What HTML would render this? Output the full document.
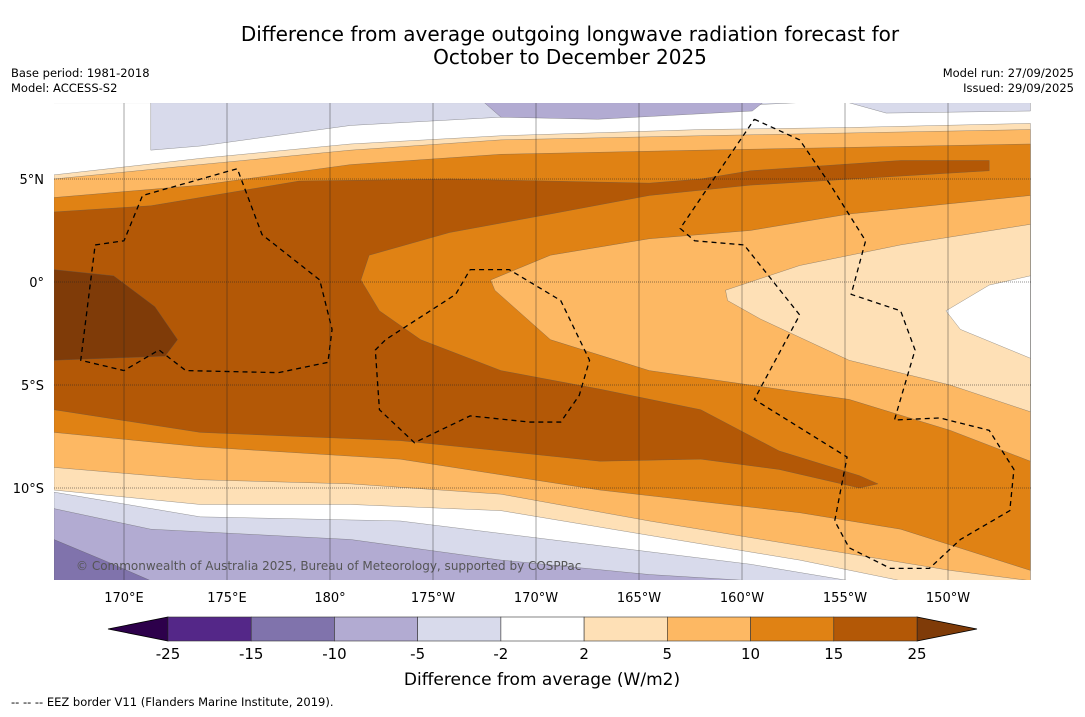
<!DOCTYPE html>
<html><head><meta charset="utf-8">
<style>
body{margin:0;background:#fff;width:1085px;height:713px;overflow:hidden;font-family:"DejaVu Sans","Liberation Sans",sans-serif;}
</style></head>
<body>
<svg id="chart" width="1085" height="713" xmlns="http://www.w3.org/2000/svg">
<rect width="1085" height="713" fill="#fff"/>
<text x="570" y="41" text-anchor="middle" font-size="20" fill="#000">Difference from average outgoing longwave radiation forecast for</text>
<text x="570" y="64" text-anchor="middle" font-size="20" fill="#000">October to December 2025</text>
<text x="11" y="77" font-size="11.5">Base period: 1981-2018</text>
<text x="11" y="92" font-size="11.5">Model: ACCESS-S2</text>
<text x="1074" y="77" font-size="11.5" text-anchor="end">Model run: 27/09/2025</text>
<text x="1074" y="92" font-size="11.5" text-anchor="end">Issued: 29/09/2025</text>
<defs><clipPath id="plotclip"><rect x="54" y="103" width="977" height="477"/></clipPath></defs>
<g id="map" clip-path="url(#plotclip)"></g>
<g id="axes"></g>
<g id="cbar"></g>
<text x="542" y="685" text-anchor="middle" font-size="17">Difference from average (W/m2)</text>
<text x="11" y="706" font-size="11.5">--  --  -- EEZ border V11 (Flanders Marine Institute, 2019).</text>
</svg>
<script>
const levelLabels=["-25","-15","-10","-5","-2","2","5","10","15","25"];
const levelColors=["#542788","#8073ac","#b2abd2","#d8daeb","#ffffff","#fee0b6","#fdb863","#e08214","#b35806"];
const lowColor="#2d004b", highColor="#7f3b08";
const lonTicks=[170,175,180,185,190,195,200,205,210];
const lonLabels=["170°E","175°E","180°","175°W","170°W","165°W","160°W","155°W","150°W"];
const latTicks=[5,0,-5,-10];
const latLabels=["5°N","0°","5°S","10°S"];
// contour regions [colour index (9 = above 25), polygon lon/lat]
const regions=[
[3,[[166.6,8.7],[171.3,8.7],[171.3,6.4],[173.7,6.6],[181,7.6],[188.3,8.0],[202.6,8.7]]],
[3,[[205.2,8.7],[214,8.7],[214,8.3],[207,8.2]]],
[2,[[187.5,8.7],[188.3,8.0],[193,7.9],[200.5,8.3],[201,8.7]]],
[5,[[166.6,5.2],[173.7,6.0],[181,6.7],[188.3,7.1],[198,7.4],[205.2,7.5],[214,7.7],[214,-14.5],[207.7,-14.5],[202.8,-13.5],[195.5,-12.3],[188.3,-11.1],[181,-10.8],[173.7,-10.8],[166.6,-10.1]]],
[6,[[166.6,5.0],[173.7,5.7],[181,6.4],[188.3,6.9],[198,7.1],[214,7.4],[214,-14.5],[210.1,-14],[202.8,-12.8],[195.5,-11.6],[188.3,-10.3],[181,-9.8],[173.7,-9.6],[166.6,-9.0]]],
[7,[[166.6,4.1],[173.7,4.7],[181,5.7],[188.3,6.2],[198,6.4],[214,6.7],[214,-14.0],[207.7,-12],[202.8,-11.2],[193.1,-10.1],[183.4,-8.6],[173.7,-8.0],[166.6,-7.3]]],
[8,[[166.6,3.4],[171.3,3.7],[178.5,4.9],[185.8,5.0],[195.5,4.8],[198,5.0],[200.4,5.4],[207.7,5.9],[212,5.9],[212,5.4],[207,5.1],[200.4,4.7],[195.5,4.2],[190.7,3.3],[185.8,2.4],[181.9,1.3],[181.5,0.1],[182.4,-1.4],[184.4,-2.8],[188.3,-4.3],[193.1,-5.2],[198,-6.2],[201.8,-8.2],[205.7,-9.4],[206.6,-9.8],[205.7,-10],[201.8,-9.1],[198,-8.6],[193.1,-8.7],[188.3,-8.2],[183.4,-7.7],[178.5,-7.5],[173.7,-7.3],[166.6,-6.2]]],
[9,[[166.6,0.6],[169.5,0.3],[171.5,-1.2],[172.6,-2.8],[172,-3.6],[166.6,-3.8]]],
[6,[[187.8,0.1],[190.7,1.3],[195.5,2.1],[200.4,2.5],[205.2,3.3],[214,4.2],[214,-8.7],[210.1,-7.2],[205.2,-5.7],[200.4,-5],[195.5,-4.3],[190.7,-2.8],[188,-0.4]]],
[5,[[199.2,-0.4],[202.8,0.8],[207.7,1.8],[214,2.8],[214,-6.3],[210.1,-5],[205.2,-3.8],[200.9,-1.8],[199.3,-0.9]]],
[4,[[214,0.3],[212,-0.15],[209.9,-1.4],[210.6,-2.3],[214,-3.7]]],
[3,[[166.6,-10.2],[173.7,-11.4],[183.4,-11.6],[193.1,-12.8],[200.4,-13.7],[205.2,-14.5],[166.6,-14.5]]],
[2,[[166.6,-11],[171.3,-12],[181,-12.5],[188.3,-13.5],[195.5,-14.2],[200.4,-14.5],[166.6,-14.5]]],
[1,[[166.6,-12.5],[169,-13.5],[171.3,-14.5],[166.6,-14.5]]]
];
const eez=[
[[168.6,1.8],[170,2.0],[170.9,4.2],[175.5,5.5],[176.7,2.3],[179.5,0.1],[180.1,-2.3],[179.9,-3.9],[177.5,-4.4],[173,-4.3],[171.7,-3.3],[170,-4.3],[167.9,-3.8],[168.6,1.8]],
[[186.8,0.6],[188.7,0.6],[191.2,-0.9],[192.6,-3.8],[192.1,-5.5],[191.2,-6.8],[189.7,-6.8],[186.8,-6.5],[184.1,-7.8],[182.4,-6.2],[182.2,-3.3],[182.7,-2.8],[186.1,-0.6],[186.8,0.6]],
[[200.6,7.9],[202.8,6.9],[204.3,4.7],[206,2.0],[205.3,-0.6],[207.7,-1.4],[208.4,-3.3],[207.4,-6.7],[209.6,-6.6],[212,-7.2],[213.2,-9.1],[213,-11.1],[210.6,-12.5],[209.1,-13.9],[207.2,-13.9],[205.2,-12.9],[204.5,-11.6],[205.1,-8.5],[200.6,-5.7],[202.8,-1.6],[200.1,1.8],[197.7,2.0],[197,2.6],[200.6,7.9]]
];
const NS="http://www.w3.org/2000/svg";
const X=lon=>124+(lon-170)*20.6;
const Y=lat=>282-lat*20.6;
const colorOf=i=>i>=levelColors.length?highColor:(i<0?lowColor:levelColors[i]);
function mk(tag,attrs,parent){const e=document.createElementNS(NS,tag);for(const k in attrs)e.setAttribute(k,attrs[k]);parent.appendChild(e);return e;}
const map=document.getElementById('map');
regions.forEach((r,i)=>{
 const p=mk('polygon',{points:r[1].map(q=>X(q[0])+','+Y(q[1])).join(' '),fill:colorOf(r[0]),stroke:'#555','stroke-width':0.3},map);
 
 
});
const ax=document.getElementById('axes');
lonTicks.forEach((lon,i)=>{
 const l=mk('line',{x1:X(lon),x2:X(lon),y1:103,y2:580,stroke:'#222','stroke-width':0.4},ax);
 
 
 const t=mk('text',{x:X(lon),y:602,'text-anchor':'middle','font-size':13},ax);t.textContent=lonLabels[i];
 
 
});
latTicks.forEach((lat,i)=>{
 const l=mk('line',{x1:54,x2:1031,y1:Y(lat),y2:Y(lat),stroke:'#222','stroke-width':0.5,'stroke-dasharray':'1,1'},ax);
 
 
 const t=mk('text',{x:44,y:Y(lat)+5,'text-anchor':'end','font-size':13},ax);t.textContent=latLabels[i];
 
 
});
eez.forEach(e=>{
 const p=mk('polyline',{points:e.map(q=>X(q[0])+','+Y(q[1])).join(' '),fill:'none',stroke:'#000','stroke-width':1.3,'stroke-dasharray':'5,4'},map);
 
 
});
const cr=mk('text',{x:76,y:570,'font-size':12,fill:'#555'},map);cr.textContent='© Commonwealth of Australia 2025, Bureau of Meteorology, supported by COSPPac';


const cb=document.getElementById('cbar');
const cx0=168,cx1=917,cy=617,ch=24,bw=(cx1-cx0)/levelColors.length;
const lt=mk('polygon',{points:`108,${cy+ch/2} ${cx0},${cy} ${cx0},${cy+ch}`,fill:lowColor,stroke:'#000','stroke-width':0.8},cb);


const rt=mk('polygon',{points:`977,${cy+ch/2} ${cx1},${cy} ${cx1},${cy+ch}`,fill:highColor,stroke:'#000','stroke-width':0.8},cb);


levelColors.forEach((c,i)=>{
 const r=mk('rect',{x:cx0+i*bw,y:cy,width:bw,height:ch,fill:c,stroke:'#333','stroke-width':0.6},cb);
 
 
});
levelLabels.forEach((s,i)=>{
 const t=mk('text',{x:cx0+i*bw,y:659,'text-anchor':'middle','font-size':15},cb);t.textContent=s;
 
 
});
</script>
</body></html>
